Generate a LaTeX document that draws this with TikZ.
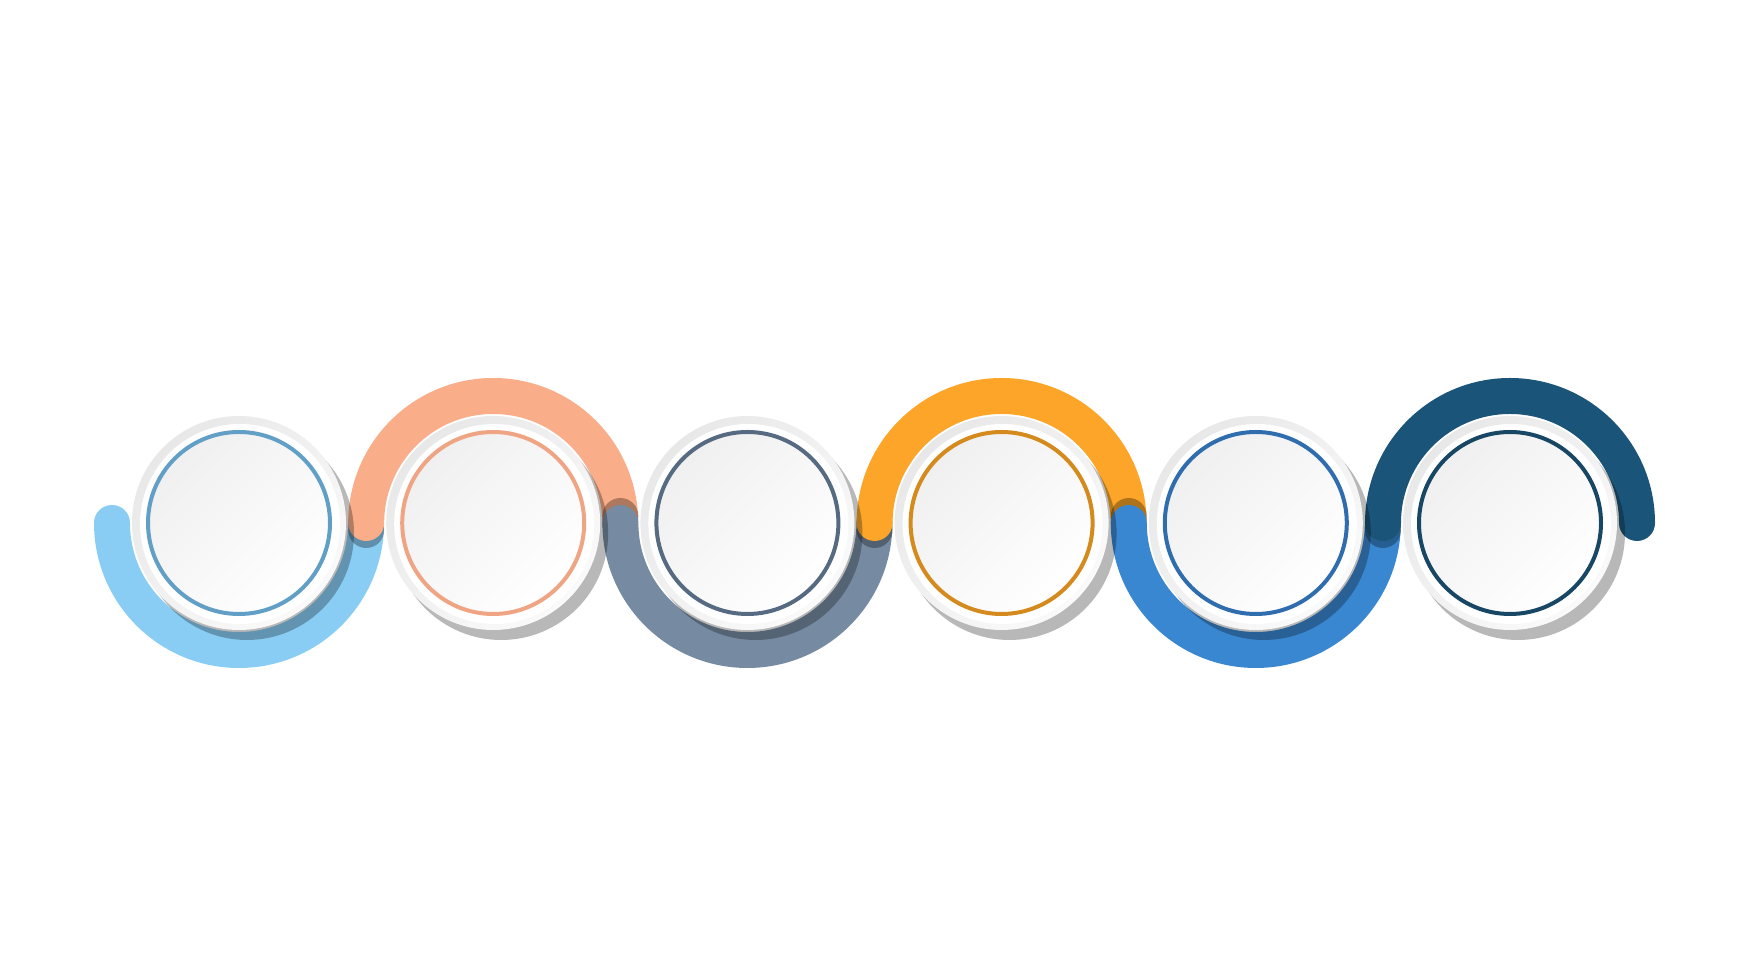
\documentclass[tikz,border=0pt]{standalone}
\usepackage[usenames,dvipsnames]{xcolor}
\usepackage{tikz}
\usetikzlibrary{calc}

\definecolor{arcA}{RGB}{137,205,244}
\definecolor{arcB}{RGB}{249,173,136}
\definecolor{arcC}{RGB}{118,139,162}
\definecolor{arcD}{RGB}{252,165,40}
\definecolor{arcE}{RGB}{57,135,208}
\definecolor{arcF}{RGB}{27,84,121}
\definecolor{ringA}{RGB}{97,159,199}
\definecolor{ringB}{RGB}{239,165,132}
\definecolor{ringC}{RGB}{86,106,130}
\definecolor{ringD}{RGB}{212,138,28}
\definecolor{ringE}{RGB}{47,109,174}
\definecolor{ringF}{RGB}{23,71,101}

\begin{document}
\begin{tikzpicture}[x=0.02cm,y=0.02cm,
  bandArc/.style={line width=0.72cm, line cap=round},
  capShadow/.style={fill=black, opacity=0.3},
  discShadow/.style={fill=black, opacity=0.28},
  discRim/.style={top color=black!9, bottom color=black!2, shading angle=45},
  discFace/.style={top color=black!6, bottom color=white, shading angle=45}]
\useasboundingbox (0,0) rectangle (1742,980);
\fill[white] (0,0) rectangle (1742,980);
\foreach \i in {1,...,6}
  \coordinate (c\i) at ({239+254.2*(\i-1)},457);
\draw[bandArc,color=arcA] ($(c1)+(-127,0)$) arc[start angle=180, end angle=360, radius=127];
\fill[capShadow] ($(c2)+(-127,-7)$) circle[radius=18];
\draw[bandArc,color=arcB] ($(c2)+(-127,0)$) arc[start angle=180, end angle=0, radius=127];
\fill[capShadow] ($(c3)+(-127,7)$) circle[radius=18];
\draw[bandArc,color=arcC] ($(c3)+(-127,0)$) arc[start angle=180, end angle=360, radius=127];
\fill[capShadow] ($(c4)+(-127,-7)$) circle[radius=18];
\draw[bandArc,color=arcD] ($(c4)+(-127,0)$) arc[start angle=180, end angle=0, radius=127];
\fill[capShadow] ($(c5)+(-127,7)$) circle[radius=18];
\draw[bandArc,color=arcE] ($(c5)+(-127,0)$) arc[start angle=180, end angle=360, radius=127];
\fill[capShadow] ($(c6)+(-127,-7)$) circle[radius=18];
\draw[bandArc,color=arcF] ($(c6)+(-127,0)$) arc[start angle=180, end angle=0, radius=127];
\foreach \i/\rc in {1/ringA,2/ringB,3/ringC,4/ringD,5/ringE,6/ringF}
{
  \fill[discShadow] ($(c\i)+(8,-10)$) circle[radius=107];
  \shade[discRim] (c\i) circle[radius=107];
  \fill[white] ($(c\i)+(1,-1)$) circle[radius=100];
  \shade[discFace,draw=\rc,line width=0.08cm] (c\i) circle[radius=91];
}
\end{tikzpicture}
\end{document}
